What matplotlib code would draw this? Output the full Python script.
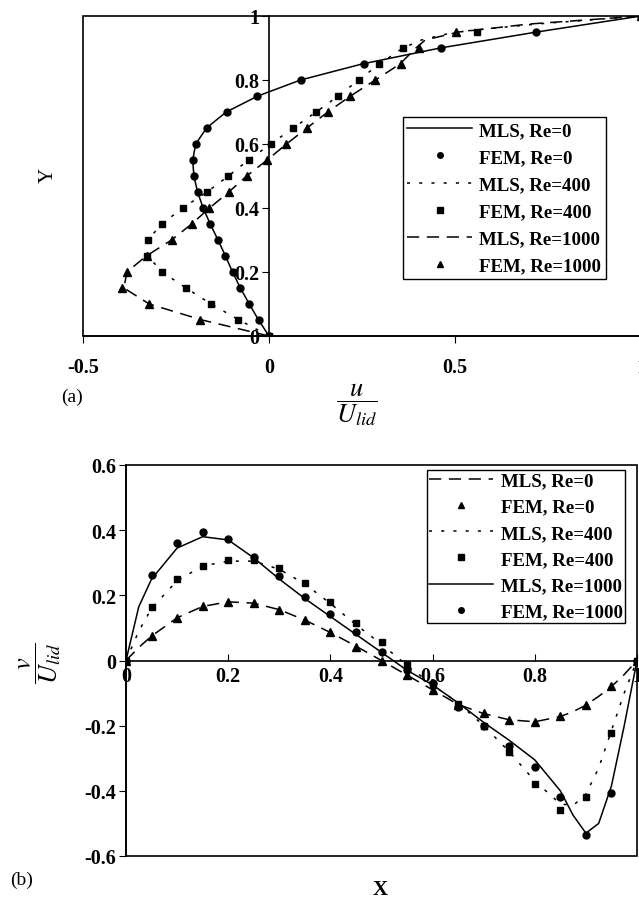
import numpy as np
import matplotlib
matplotlib.use('Agg')
import matplotlib.pyplot as plt
from matplotlib.patches import Rectangle

plt.rcParams['font.family'] = ['Liberation Serif', 'DejaVu Serif']
plt.rcParams['mathtext.fontset'] = 'stix'

# ---- panel (a): u/U_lid along vertical centreline ----
ya = [0, 0.05, 0.1, 0.15, 0.2, 0.25, 0.3, 0.35, 0.4, 0.45, 0.5,
      0.55, 0.6, 0.65, 0.7, 0.75, 0.8, 0.85, 0.9, 0.95, 1.0]
fem0_a = [0, -0.028, -0.053, -0.077, -0.098, -0.117, -0.136, -0.159, -0.177, -0.191, -0.201,
          -0.205, -0.197, -0.167, -0.114, -0.032, 0.087, 0.256, 0.462, 0.718, 1.0]
fem400_a = [0, -0.082, -0.156, -0.223, -0.287, -0.328, -0.324, -0.287, -0.232, -0.167, -0.109,
            -0.055, 0.005, 0.065, 0.127, 0.186, 0.241, 0.297, 0.361, 0.558, 1.0]
fem1000_a = [0, -0.185, -0.322, -0.395, -0.382, -0.328, -0.262, -0.208, -0.160, -0.108, -0.060,
             -0.005, 0.047, 0.102, 0.158, 0.219, 0.286, 0.355, 0.404, 0.503, 1.0]

ya_mls = [0, 0.05, 0.1, 0.15, 0.2, 0.25, 0.3, 0.35, 0.4, 0.45, 0.5,
          0.55, 0.6, 0.65, 0.7, 0.75, 0.8, 0.85, 0.9, 0.925, 0.95, 0.975, 1.0]
mls0_a = [0, -0.028, -0.053, -0.077, -0.098, -0.117, -0.137, -0.158, -0.177, -0.192, -0.202,
          -0.205, -0.197, -0.168, -0.115, -0.030, 0.085, 0.250, 0.460, 0.590, 0.720, 0.860, 1.0]
mls400_a = [0, -0.080, -0.156, -0.223, -0.287, -0.326, -0.326, -0.288, -0.232, -0.167, -0.109,
            -0.055, 0.005, 0.065, 0.127, 0.186, 0.241, 0.297, 0.360, 0.410, 0.500, 0.720, 1.0]
mls1000_a = [0, -0.180, -0.322, -0.390, -0.382, -0.330, -0.262, -0.208, -0.160, -0.108, -0.060,
             -0.005, 0.047, 0.102, 0.158, 0.219, 0.286, 0.352, 0.395, 0.420, 0.510, 0.700, 1.0]

# ---- panel (b): v/U_lid along horizontal centreline ----
xb = [0, 0.05, 0.1, 0.15, 0.2, 0.25, 0.3, 0.35, 0.4, 0.45, 0.5,
      0.55, 0.6, 0.65, 0.7, 0.75, 0.8, 0.85, 0.9, 0.95, 1.0]
fem0_b = [0, 0.075, 0.131, 0.167, 0.181, 0.175, 0.155, 0.123, 0.087, 0.042, 0.0,
          -0.046, -0.091, -0.138, -0.161, -0.184, -0.189, -0.169, -0.137, -0.079, 0]
fem400_b = [0, 0.164, 0.249, 0.290, 0.308, 0.308, 0.285, 0.239, 0.180, 0.114, 0.056,
            -0.010, -0.074, -0.132, -0.200, -0.282, -0.379, -0.458, -0.420, -0.222, 0]
fem1000_b = [0, 0.262, 0.362, 0.393, 0.372, 0.318, 0.259, 0.195, 0.142, 0.087, 0.026,
             -0.030, -0.069, -0.142, -0.202, -0.262, -0.327, -0.418, -0.537, -0.407, 0]

xb_mls = [0, 0.025, 0.05, 0.1, 0.15, 0.2, 0.25, 0.3, 0.35, 0.4, 0.45, 0.5,
          0.55, 0.6, 0.65, 0.7, 0.75, 0.8, 0.85, 0.875, 0.9, 0.925, 0.95, 0.975, 1.0]
mls0_b = [0, 0.040, 0.075, 0.131, 0.166, 0.180, 0.176, 0.156, 0.124, 0.086, 0.044, 0.0,
          -0.045, -0.090, -0.135, -0.163, -0.182, -0.188, -0.172, -0.157, -0.137, -0.110, -0.080, -0.043, 0]
mls400_b = [0, 0.090, 0.160, 0.245, 0.290, 0.305, 0.305, 0.280, 0.235, 0.175, 0.110, 0.050,
            -0.015, -0.075, -0.130, -0.200, -0.280, -0.370, -0.440, -0.445, -0.410, -0.330, -0.215, -0.100, 0]
mls1000_b = [0, 0.165, 0.250, 0.345, 0.380, 0.370, 0.315, 0.250, 0.190, 0.135, 0.080, 0.025,
             -0.030, -0.075, -0.130, -0.190, -0.245, -0.305, -0.400, -0.475, -0.530, -0.500, -0.385, -0.200, 0]

dashed = (0, (8, 5))
dotted = (0, (2, 6))
tick_font = {'family': 'Liberation Serif', 'weight': 'bold', 'size': 14.5}
leg_font = {'family': 'Liberation Serif', 'weight': 'bold', 'size': 13.6}

fig = plt.figure(figsize=(6.39, 9.03), dpi=100)

# ---------------- (a) ----------------
ax1 = fig.add_axes([83 / 639, 1 - 337 / 903, 558 / 639, 320 / 903])
ax1.plot(mls0_a, ya_mls, color='black', lw=1.1, ls='-', label='MLS, Re=0')
ax1.plot(fem0_a, ya, 'o', color='black', ms=5, label='FEM, Re=0')
ax1.plot(mls400_a, ya_mls, color='black', lw=1.1, ls=dotted, label='MLS, Re=400')
ax1.plot(fem400_a, ya, 's', color='black', ms=5, label='FEM, Re=400')
ax1.plot(mls1000_a, ya_mls, color='black', lw=1.1, ls=dashed, label='MLS, Re=1000')
ax1.plot(fem1000_a, ya, '^', color='black', ms=6, label='FEM, Re=1000')
ax1.set_xlim(-0.5, 1.0)
ax1.set_ylim(0, 1.0)
ax1.spines['left'].set_position(('data', 0))
ax1.spines['right'].set_visible(False)
ax1.spines['top'].set_visible(False)
ax1.add_patch(Rectangle((0, 0), 1, 1, transform=ax1.transAxes, fill=False,
                        ec='black', lw=1.2, clip_on=False, zorder=5))
ax1.set_xticks([-0.5, 0, 0.5, 1.0])
ax1.set_xticklabels(['-0.5', '0', '0.5', '1'])
ax1.set_yticks([0, 0.2, 0.4, 0.6, 0.8, 1.0])
ax1.set_yticklabels(['0', '0.2', '0.4', '0.6', '0.8', '1'])
ax1.tick_params(axis='x', direction='out', length=5, pad=10)
ax1.tick_params(axis='y', direction='out', length=5, pad=2)
for lab in ax1.get_xticklabels() + ax1.get_yticklabels():
    lab.set_fontproperties(tick_font)
for sp in ax1.spines.values():
    sp.set_linewidth(1.2)
leg1 = ax1.legend(loc='upper left', bbox_to_anchor=(0.573, 0.684), borderaxespad=0,
                  frameon=True, fancybox=False, edgecolor='black', framealpha=1,
                  prop=leg_font, handlelength=3.4, handletextpad=0.4,
                  labelspacing=0.52, borderpad=0.25, markerscale=0.8)
leg1.get_frame().set_linewidth(1.0)

fig.text(48 / 639, 1 - 175 / 903, 'Y', rotation=90, ha='center', va='center', fontsize=15)
fig.text(357 / 639, 1 - 405 / 903, r'$\dfrac{u}{U_{lid}}$', ha='center', va='center', fontsize=19)
fig.text(72 / 639, 1 - 397 / 903, '(a)', ha='center', va='center', fontsize=14)

# ---------------- (b) ----------------
ax2 = fig.add_axes([126 / 639, 1 - 857 / 903, 511 / 639, 391 / 903])
ax2.plot(xb_mls, mls0_b, color='black', lw=1.1, ls=dashed, label='MLS, Re=0')
ax2.plot(xb, fem0_b, '^', color='black', ms=6, label='FEM, Re=0')
ax2.plot(xb_mls, mls400_b, color='black', lw=1.1, ls=dotted, label='MLS, Re=400')
ax2.plot(xb, fem400_b, 's', color='black', ms=5, label='FEM, Re=400')
ax2.plot(xb_mls, mls1000_b, color='black', lw=1.1, ls='-', label='MLS, Re=1000')
ax2.plot(xb, fem1000_b, 'o', color='black', ms=5, label='FEM, Re=1000')
ax2.set_xlim(0, 1.0)
ax2.set_ylim(-0.6, 0.6)
ax2.spines['bottom'].set_position(('data', 0))
ax2.spines['right'].set_visible(False)
ax2.spines['top'].set_visible(False)
ax2.add_patch(Rectangle((0, 0), 1, 1, transform=ax2.transAxes, fill=False,
                        ec='black', lw=1.2, clip_on=False, zorder=5))
ax2.set_xticks([0, 0.2, 0.4, 0.6, 0.8, 1.0])
ax2.set_xticklabels(['0', '0.2', '0.4', '0.6', '0.8', '1'])
ax2.set_yticks([-0.6, -0.4, -0.2, 0, 0.2, 0.4, 0.6])
ax2.set_yticklabels(['-0.6', '-0.4', '-0.2', '0', '0.2', '0.4', '0.6'])
ax2.tick_params(axis='x', direction='in', length=5, pad=4)
ax2.tick_params(axis='y', direction='out', length=5, pad=2)
for lab in ax2.get_xticklabels() + ax2.get_yticklabels():
    lab.set_fontproperties(tick_font)
for sp in ax2.spines.values():
    sp.set_linewidth(1.2)
leg2 = ax2.legend(loc='upper left', bbox_to_anchor=(0.589, 0.987), borderaxespad=0,
                  frameon=True, fancybox=False, edgecolor='black', framealpha=1,
                  prop=leg_font, handlelength=3.4, handletextpad=0.4,
                  labelspacing=0.48, borderpad=0.1, markerscale=0.8)
leg2.get_frame().set_linewidth(1.0)

fig.text(40 / 639, 1 - 663 / 903, r'$\dfrac{v}{U_{lid}}$', rotation=90, ha='center', va='center', fontsize=19)
fig.text(380 / 639, 1 - 890 / 903, 'X', ha='center', va='center', fontsize=15, fontweight='bold')
fig.text(22 / 639, 1 - 880 / 903, '(b)', ha='center', va='center', fontsize=14)

fig.savefig('out.png', dpi=100)
